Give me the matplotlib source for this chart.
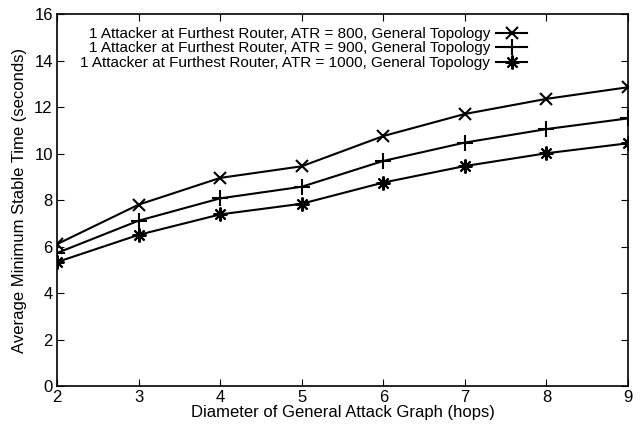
import numpy as np
from matplotlib import pyplot as plt

plt.rcParams['font.family'] = ['Liberation Sans', 'DejaVu Sans']

hops = [2, 3, 4, 5, 6, 7, 8, 9]
atr_800 = [6.1, 7.8, 8.95, 9.45, 10.75, 11.7, 12.35, 12.85]
atr_900 = [5.72, 7.11, 8.07, 8.57, 9.68, 10.47, 11.05, 11.51]
atr_1000 = [5.33, 6.5, 7.38, 7.84, 8.75, 9.46, 10.01, 10.44]
labels = ['1 Attacker at Furthest Router, ATR = 800, General Topology',
          '1 Attacker at Furthest Router, ATR = 900, General Topology',
          '1 Attacker at Furthest Router, ATR = 1000, General Topology']

fig = plt.figure(figsize=(6.41, 4.34), dpi=100)
ax = fig.add_axes([57/641, (434-386)/434, (628-57)/641, (386-14)/434])

ax.plot(hops, atr_800, color='black', lw=1.5, marker='x', ms=9, mew=1.5, label=labels[0])
ax.plot(hops, atr_900, color='black', lw=1.5, marker='+', ms=11, mew=1.5, label=labels[1])
ax.plot(hops, atr_1000, color='black', lw=1.5, marker=(8, 2, 0), ms=10, mew=1.5, label=labels[2])

ax.set_xlim(2, 9)
ax.set_ylim(0, 16)
ax.set_xticks(np.arange(2, 10, 1))
ax.set_yticks(np.arange(0, 17, 2))
ax.tick_params(direction='in', top=True, right=True, length=5, labelsize=12, pad=3)
for s in ax.spines.values():
    s.set_linewidth(1.2)

ax.set_xlabel('Diameter of General Attack Graph (hops)', fontsize=12, labelpad=0)
ax.set_ylabel('Average Minimum Stable Time (seconds)', fontsize=12, labelpad=5)

ax.legend(loc='upper right', bbox_to_anchor=((527-57)/571, (386-27)/372),
          frameon=False, markerfirst=False, fontsize=11, handlelength=2.0,
          labelspacing=0.03, borderpad=0, borderaxespad=0, handletextpad=0.4)

plt.savefig('out.png', dpi=100)
